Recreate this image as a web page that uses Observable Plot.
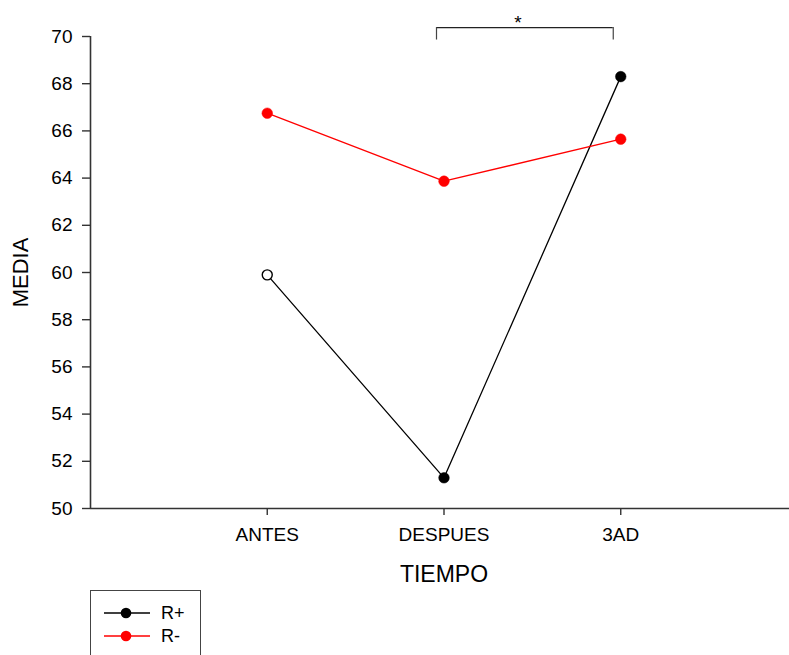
<!DOCTYPE html>
<html><head><meta charset="utf-8">
<script src="https://cdn.jsdelivr.net/npm/d3@7"></script>
<script src="https://cdn.jsdelivr.net/npm/@observablehq/plot@0.6"></script>
<style>
html,body{margin:0;padding:0;background:#fff;overflow:hidden;font-family:"Liberation Sans",Arial,sans-serif;}
#wrap{position:relative;width:789px;height:655px;}
#legend{position:absolute;left:90px;top:590px;width:111px;height:90px;border:1px solid #444;box-sizing:border-box;background:#fff;}
</style></head><body>
<div id="wrap"><div id="chart"></div><div id="legend"></div></div>
<script>
// ---- data ----
const categories = ["ANTES", "DESPUES", "3AD"];
const seriesNames = ["R+", "R-"];
const rPlus = [59.9, 51.3, 68.3];
const rMinus = [66.75, 63.87, 65.65];
const rPlusOpen = [true, false, false];
const seriesColors = ["#000000", "#ff0000"];
const yTicks = [50, 52, 54, 56, 58, 60, 62, 64, 66, 68, 70];
const sigFrom = "DESPUES";
const sigTo = "3AD";
const sigLabel = "*";
const sigTop = 70.38;
const sigBottom = 69.85;

const pos = c => categories.indexOf(c) + 1;
const rows = [];
categories.forEach((c, i) => {
  rows.push({series: "R+", cat: c, pos: pos(c), value: rPlus[i], open: rPlusOpen[i]});
});
categories.forEach((c, i) => {
  rows.push({series: "R-", cat: c, pos: pos(c), value: rMinus[i], open: false});
});
const sig = [{x1: pos(sigFrom), x2: pos(sigTo), top: sigTop, bottom: sigBottom, label: sigLabel}];
const sigEnds = [{x: pos(sigFrom)}, {x: pos(sigTo)}];

const axisColor = "#333";
const chart = Plot.plot({
  width: 789,
  height: 588,
  marginTop: 36,
  marginBottom: 80,
  marginLeft: 90,
  marginRight: 0,
  style: {fontFamily: "'Liberation Sans', Arial, sans-serif", color: "#000", background: "#fff", overflow: "visible"},
  x: {domain: [0, 4], range: [90, 797]},
  y: {domain: [50, 70]},
  color: {domain: seriesNames, range: seriesColors},
  marks: [
    Plot.ruleY([50], {stroke: axisColor, strokeWidth: 1.6}),
    Plot.ruleX([0], {stroke: axisColor, strokeWidth: 1.6}),
    Plot.axisY({ticks: yTicks, tickSize: 8, tickPadding: 10, fontSize: 19, stroke: axisColor, strokeWidth: 1.4, label: null, color: "#000"}),
    Plot.axisX({ticks: [1, 2, 3], tickFormat: i => categories[i - 1], tickSize: 7, tickPadding: 12, fontSize: 19, stroke: axisColor, strokeWidth: 1.4, label: null}),
    Plot.text(["MEDIA"], {frameAnchor: "left", text: d => d, rotate: -90, dx: -70, fontSize: 22, textAnchor: "middle", lineAnchor: "middle", fill: "#000"}),
    Plot.text(["TIEMPO"], {frameAnchor: "bottom", text: d => d, dx: 4, dy: 66, fontSize: 23, textAnchor: "middle", lineAnchor: "middle", fill: "#000"}),
    Plot.line(rows, {x: "pos", y: "value", z: "series", stroke: "series", strokeWidth: 1.3}),
    Plot.dot(rows.filter(d => !d.open), {x: "pos", y: "value", r: 5.3, fill: "series", stroke: "series", strokeWidth: 0.5}),
    Plot.dot(rows.filter(d => d.open), {x: "pos", y: "value", r: 5, fill: "white", stroke: "series", strokeWidth: 1.4}),
    Plot.ruleY(sig, {x1: "x1", x2: "x2", y: "top", dx: -7.5, stroke: "#222", strokeWidth: 1.2}),
    Plot.ruleX(sigEnds, {x: "x", y1: sigTop, y2: sigBottom, dx: -7.5, stroke: "#444", strokeWidth: 1.2}),
    Plot.text(sig, {x: d => (d.x1 + d.x2) / 2, y: "top", text: "label", dx: -14.5, dy: -4.5, fontSize: 19, lineAnchor: "middle", fill: "#000"})
  ]
});
document.getElementById("chart").appendChild(chart);

// ---- legend (below the SVG) ----
const lg = d3.select("#legend").append("svg").attr("width", 109).attr("height", 88).style("display", "block");
seriesNames.forEach((s, i) => {
  const g = lg.append("g").attr("transform", `translate(0, ${22 + i * 23})`);
  g.append("line").attr("x1", 13).attr("x2", 59).attr("y1", 0).attr("y2", 0).attr("stroke", seriesColors[i]).attr("stroke-width", 1.3);
  g.append("circle").attr("cx", 35).attr("cy", 0).attr("r", 5.3).attr("fill", seriesColors[i]);
  g.append("text").attr("x", 70).attr("y", 6).attr("font-size", 18).attr("font-family", "'Liberation Sans', Arial, sans-serif").attr("fill", "#000").text(s);
});
</script>
</body></html>
